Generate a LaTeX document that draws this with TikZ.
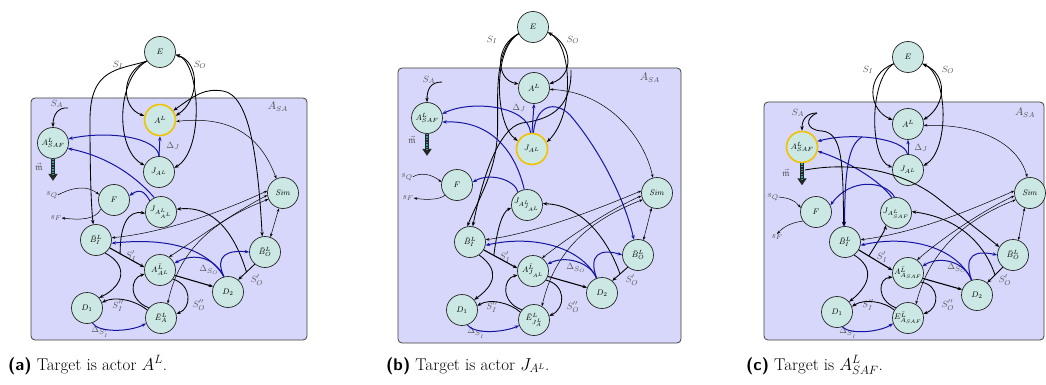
\documentclass[tikz,border=0pt]{standalone}
\usepackage{amsmath,amssymb}
\usetikzlibrary{arrows.meta}
\definecolor{nodefill}{HTML}{CBE8E4}
\definecolor{boxfill}{HTML}{D7D7FB}
\definecolor{gold}{HTML}{F2C200}
\definecolor{dblue}{HTML}{1515A0}
\definecolor{lblc}{HTML}{555555}
\definecolor{mteal}{HTML}{2FA59A}
\tikzset{
 actor/.style={circle, draw=black!85, fill=nodefill, line width=0.7pt, minimum size=31pt, inner sep=0pt, font=\fontsize{8.5}{9}\selectfont},
 tgt/.style={actor, draw=gold, line width=1.6pt},
 asbox/.style={draw=black!75, fill=boxfill, rounded corners=4pt, line width=0.8pt},
 ed/.style={>={Stealth[length=4.5pt,width=3.4pt]}, line width=0.85pt, ->},
 edd/.style={>={Stealth[length=4.5pt,width=3.4pt]}, line width=0.85pt, <->},
 edk/.style={ed, line width=1.1pt},
 th/.style={>={Stealth[length=3.6pt,width=2.6pt]}, line width=0.5pt, <->},
 thinone/.style={>={Stealth[length=3.6pt,width=2.6pt]}, line width=0.5pt, ->},
 blu/.style={ed, draw=dblue, line width=1pt},
 lab/.style={text=lblc, font=\fontsize{9.5}{10}\selectfont, inner sep=0pt},
 boxlab/.style={text=black!70, font=\fontsize{10.5}{11}\selectfont, inner sep=0pt},
 capt/.style={anchor=base west, font=\fontsize{17}{19}\selectfont, inner sep=0pt},
 mvec/.style={line width=4pt, draw=black!85, -{Triangle[length=7pt,width=9pt]}},
 mdot/.style={line width=1.6pt, draw=mteal, dash pattern=on 1.3pt off 1.3pt},
}
\begin{document}
\begin{tikzpicture}[x=1pt,y=-1pt]
\useasboundingbox (0,0) rectangle (1046,385);
% ======================= PANEL (a) =======================
\begin{scope}
\draw[asbox] (31,98) rectangle (307,340);
\node[boxlab] (asaA) at (278,107) {$A_{SA}$};
\node[actor] (E) at (160,52) {$E$};
\node[tgt] (AL) at (160,120) {$A^L$};
\node[actor] (J) at (159,172) {$J_{A^L}$};
\node[actor] (SAF) at (53,143) {$A^L_{SAF}$};
\node[actor] (Sim) at (283,193) {$\mathit{Sim}$};
\node[actor] (F) at (114,200) {$F$};
\node[actor] (JAA) at (161,212) {$J_{A^L_{A^L}}$};
\node[actor] (BI) at (96,240) {$\bar{B}^L_I$};
\node[actor] (AA) at (160,270) {$A^{\bar{L}}_{A^L}$};
\node[actor] (BO) at (265,252) {$\bar{B}^L_O$};
\node[actor] (D2) at (228,292) {$D_2$};
\node[actor] (D1) at (87,308) {$D_1$};
\node[actor] (EA) at (161,318) {$\bar{E}^L_A$};
\node[lab] (sQ) at (52,195) {$s_Q$};
\node[lab] (sF) at (56,218) {$s_F$};
\coordinate (sa) at (68,108);
\node[lab] at (57,104) {$S_A$};
\node[lab] at (39,167) {$\vec{\mathfrak{m}}$};
\node[lab] at (118,65) {$S_I$};
\node[lab] at (200,65) {$S_O$};
\node[lab] at (173,146) {$\Delta_J$};
\node[lab] at (131,256) {$S'_I$};
\node[lab] at (118,306) {$S''_I$};
\node[lab] at (100,332) {$\Delta_{S'_I}$};
\node[lab] at (199,305) {$S''_O$};
\node[lab] at (209,270) {$\Delta_{S_O}$};
\node[lab] at (257,280) {$S'_O$};
% edges
\draw[ed] (E.215) .. controls (120,72) and (121,108) .. (AL.165);
\draw[ed] (E.215) .. controls (116,78) and (115,150) .. (J.155);
\draw[ed] (E.215) .. controls (118,70) and (90,68) .. (90,120) .. controls (90,170) and (91,205) .. (BI.100);
\draw[edd] (E.-10) .. controls (200,62) and (200,100) .. (AL.15);
\draw[edd] (E.-10) .. controls (200,62) and (205,150) .. (J.15);
\draw[edd] (AL.35) .. controls (195,95) and (205,88) .. (223,91) .. controls (250,95) and (258,160) .. (BO.100);
\draw[th] (AL.-5) .. controls (235,115) and (262,140) .. (Sim.115);
\draw[blu] (J.90) -- (AL.-90);
\draw[blu] (J.90) .. controls (158,138) and (110,130) .. (SAF.15);
\draw[blu] (JAA.115) .. controls (130,170) and (100,155) .. (SAF.-20);
\draw[blu] (JAA.135) .. controls (145,192) and (140,188) .. (F.15);
\draw[thinone] (sQ.east) .. controls (75,186) and (88,186) .. (F.160);
\draw[thinone] (F.215) .. controls (95,220) and (80,220) .. (sF.east);
\draw[ed] (sa) .. controls (58,107) and (53,115) .. (SAF.90);
\draw[mvec] (SAF.south) -- ++(0,22);
\draw[mdot] (SAF.south) -- ++(0,16);
\draw[edk] (BI.-30) -- coordinate[pos=0.3] (m2) (AA.170);
\draw[ed] (BI.-55) .. controls (128,265) and (125,285) .. (D1.40);
\draw[ed] (EA.150) .. controls (135,300) and (115,296) .. (D1.20);
\draw[blu] (D1.-70) .. controls (98,333) and (130,332) .. (EA.200);
\draw[ed] (EA.140) .. controls (128,300) and (130,278) .. (AA.195);
\draw[ed] (AA.-35) .. controls (192,285) and (192,308) .. (EA.15);
\draw[edk] (AA.-20) -- (D2.160);
\draw[ed] (BO.230) -- coordinate[pos=0.5] (m1) (D2.50);
\draw[ed] (m1) .. controls (235,235) and (215,205) .. (JAA.10);
\draw[ed] (m2) .. controls (120,225) and (128,210) .. (JAA.185);
\draw[blu] (D2.105) .. controls (215,258) and (195,252) .. (AA.25);
\draw[blu] (D2.105) .. controls (214,255) and (228,250) .. (BO.180);
\draw[blu] (D2.105) .. controls (205,245) and (160,238) .. (BI.-12);
\draw[th] (BI.8) .. controls (170,232) and (230,208) .. (Sim.172);
\draw[th] (AA.55) .. controls (195,240) and (235,212) .. (Sim.188);
\draw[th] (EA.65) .. controls (180,245) and (220,218) .. (Sim.203);
\draw[th] (Sim.-105) -- (BO.70);
\node[capt] (capA) at (8,370) {{\sffamily\bfseries (a)} Target is actor $A^L$.};
\end{scope}
% ======================= PANEL (b) =======================
\begin{scope}
\draw[asbox] (398,68) rectangle (681,343);
\node[boxlab] (asaB) at (650,78) {$A_{SA}$};
\node[actor] (E) at (533,27) {$E$};
\node[actor] (AL) at (534,88) {$A^L$};
\node[tgt] (J) at (532,149) {$J_{A^L}$};
\node[actor] (SAF) at (427,118) {$A^L_{SAF}$};
\node[actor] (Sim) at (657,193) {$\mathit{Sim}$};
\node[actor] (F) at (457,185) {$F$};
\node[actor] (JAA) at (527,205) {$J_{A^L_{J_{A^L}}}$};
\node[actor] (BI) at (470,242) {$\bar{B}^L_I$};
\node[actor] (AA) at (533,271) {$A^{\bar{L}}_{J_{A^L}}$};
\node[actor] (BO) at (638,255) {$\bar{B}^L_O$};
\node[actor] (D2) at (602,293) {$D_2$};
\node[actor] (D1) at (462,310) {$D_1$};
\node[actor] (EA) at (534,320) {$\bar{E}^L_{J^L_A}$};
\node[lab] (sQ) at (407,177) {$s_Q$};
\node[lab] (sF) at (408,198) {$s_F$};
\coordinate (sa) at (442,82);
\coordinate (so) at (571,70);
\node[lab] at (429,80) {$S_A$};
\node[lab] at (412,140) {$\vec{\mathfrak{m}}$};
\node[lab] at (492,40) {$S_I$};
\node[lab] at (573,40) {$S_O$};
\node[lab] at (519,108) {$\Delta_J$};
\node[lab] at (505,257) {$S'_I$};
\node[lab] at (492,307) {$S''_I$};
\node[lab] at (476,333) {$\Delta_{S'_I}$};
\node[lab] at (573,307) {$S''_O$};
\node[lab] at (576,268) {$\Delta_{S_O}$};
\node[lab] at (632,280) {$S'_O$};
\draw[ed] (E.205) .. controls (495,45) and (495,80) .. (AL.165);
\draw[ed] (E.205) .. controls (492,50) and (495,125) .. (J.150);
\draw[ed] (E.205) .. controls (490,50) and (500,110) .. (497,140) .. controls (494,175) and (478,200) .. (BI.100);
\draw[edd] (E.-20) .. controls (572,45) and (575,75) .. (AL.15);
\draw[edd] (E.-20) .. controls (572,45) and (575,115) .. (J.25);
\draw[ed] (so) .. controls (572,112) and (545,120) .. (522,123) .. controls (498,128) and (482,180) .. (BI.80);
\draw[th] (AL.-5) .. controls (610,92) and (645,140) .. (Sim.105);
\draw[blu] (J.90) -- (AL.-90);
\draw[blu] (J.95) .. controls (528,105) and (470,100) .. (SAF.15);
\draw[blu] (J.85) .. controls (536,105) and (555,100) .. (570,115) .. controls (600,150) and (625,200) .. (BO.105);
\draw[blu] (JAA.100) .. controls (515,150) and (490,120) .. (SAF.-15);
\draw[blu] (JAA.125) .. controls (515,180) and (490,172) .. (F.10);
\draw[thinone] (sQ.east) .. controls (420,172) and (432,174) .. (F.170);
\draw[thinone] (F.220) .. controls (440,200) and (425,200) .. (sF.east);
\draw[ed] (sa) .. controls (430,82) and (427,90) .. (SAF.90);
\draw[mvec] (SAF.south) -- ++(0,22);
\draw[mdot] (SAF.south) -- ++(0,16);
\draw[edk] (BI.-30) -- coordinate[pos=0.3] (m2) (AA.170);
\draw[ed] (BI.-55) .. controls (500,270) and (495,285) .. (D1.40);
\draw[ed] (EA.150) .. controls (510,303) and (490,298) .. (D1.15);
\draw[blu] (D1.-70) .. controls (475,335) and (505,332) .. (EA.200);
\draw[ed] (EA.140) .. controls (500,302) and (503,278) .. (AA.195);
\draw[ed] (AA.-35) .. controls (566,285) and (566,308) .. (EA.15);
\draw[edk] (AA.-20) -- (D2.160);
\draw[ed] (BO.230) -- coordinate[pos=0.5] (m1) (D2.50);
\draw[ed] (m1) .. controls (610,245) and (585,205) .. (JAA.5);
\draw[ed] (m2) .. controls (497,230) and (502,212) .. (JAA.190);
\draw[blu] (D2.110) .. controls (590,262) and (565,255) .. (AA.25);
\draw[blu] (D2.110) .. controls (588,255) and (600,248) .. (BO.180);
\draw[blu] (D2.110) .. controls (580,245) and (530,235) .. (BI.-12);
\draw[th] (BI.8) .. controls (540,232) and (600,208) .. (Sim.172);
\draw[th] (AA.55) .. controls (565,240) and (605,212) .. (Sim.190);
\draw[th] (EA.60) .. controls (555,250) and (590,220) .. (Sim.205);
\draw[th] (Sim.-110) -- (BO.70);
\node[capt] (capB) at (386,370) {{\sffamily\bfseries (b)} Target is actor $J_{A^L}$.};
\end{scope}
% ======================= PANEL (c) =======================
\begin{scope}
\draw[asbox] (764,102) rectangle (1044,340);
\node[boxlab] (asaC) at (1025,113) {$A_{SA}$};
\node[actor] (E) at (908,57) {$E$};
\node[actor] (AL) at (908,124) {$A^L$};
\node[actor] (J) at (908,170) {$J_{A^L}$};
\node[tgt] (SAF) at (802,147) {$A^L_{SAF}$};
\node[actor] (Sim) at (1030,193) {$\mathit{Sim}$};
\node[actor] (F) at (816,212) {$F$};
\node[actor] (JAA) at (896,213) {$J_{A^L_{SAF}}$};
\node[actor] (BI) at (845,242) {$\bar{B}^L_I$};
\node[actor] (AA) at (908,273) {$A^{\bar{L}}_{A_{SAF}}$};
\node[actor] (BO) at (1013,255) {$\bar{B}^L_O$};
\node[actor] (D2) at (977,295) {$D_2$};
\node[actor] (D1) at (837,312) {$D_1$};
\node[actor] (EA) at (908,318) {$E^{\bar{L}}_{A_{SAF}}$};
\node[lab] (sQ) at (773,197) {$s_Q$};
\node[lab] (sF) at (777,237) {$s_F$};
\coordinate (sa) at (817,113);
\coordinate (jb) at (862,137);
\coordinate (sb) at (805,170);
\node[lab] at (798,113) {$S_A$};
\node[lab] at (786,173) {$\vec{\mathfrak{m}}$};
\node[lab] at (868,70) {$S_I$};
\node[lab] at (948,70) {$S_O$};
\node[lab] at (921,148) {$\Delta_J$};
\node[lab] at (882,257) {$S'_I$};
\node[lab] at (868,305) {$S''_I$};
\node[lab] at (848,333) {$\Delta_{S'_I}$};
\node[lab] at (948,305) {$S''_O$};
\node[lab] at (957,268) {$\Delta_{S_O}$};
\node[lab] at (1005,280) {$S'_O$};
\draw[ed] (E.205) .. controls (865,75) and (868,110) .. (AL.165);
\draw[ed] (E.205) .. controls (868,80) and (870,160) .. (J.170);
\draw[edd] (E.-25) .. controls (948,75) and (946,105) .. (AL.15);
\draw[edd] (E.-25) .. controls (948,75) and (950,150) .. (J.15);
\draw[th] (AL.-5) .. controls (990,124) and (1020,150) .. (Sim.100);
\draw[blu] (J.90) -- (AL.-90);
\draw[blu] (J.92) .. controls (905,138) and (850,132) .. (SAF.20);
\draw[blu] (jb) .. controls (848,145) and (845,170) .. (BI.92);
\draw[blu] (JAA.105) .. controls (880,180) and (845,160) .. (SAF.-15);
\draw[blu] (JAA.95) .. controls (885,180) and (850,178) .. (F.25);
\draw[ed] (sb) .. controls (860,160) and (910,175) .. (940,200) .. controls (965,220) and (985,235) .. (BO.150);
\draw[ed] (sa) .. controls (808,113) and (802,118) .. (SAF.90);
\draw[ed] (sa) .. controls (805,118) and (805,130) .. (822,131) .. controls (842,133) and (843,160) .. (BI.95);
\draw[mvec] (SAF.south) -- ++(0,22);
\draw[mdot] (SAF.south) -- ++(0,16);
\draw[thinone] (sQ.east) .. controls (788,198) and (795,200) .. (F.165);
\draw[thinone] (F.215) .. controls (795,222) and (785,225) .. (sF.north);
\draw[edk] (BI.-30) -- coordinate[pos=0.3] (m2) (AA.170);
\draw[ed] (BI.-55) .. controls (875,268) and (870,285) .. (D1.40);
\draw[ed] (EA.150) .. controls (885,302) and (865,298) .. (D1.20);
\draw[blu] (D1.-70) .. controls (850,335) and (880,332) .. (EA.200);
\draw[ed] (EA.140) .. controls (876,300) and (878,278) .. (AA.195);
\draw[ed] (AA.-35) .. controls (940,285) and (940,308) .. (EA.15);
\draw[edk] (AA.-20) -- (D2.160);
\draw[ed] (BO.230) -- coordinate[pos=0.5] (m1) (D2.50);
\draw[ed] (m1) .. controls (985,245) and (960,218) .. (JAA.5);
\draw[ed] (m2) .. controls (882,235) and (885,230) .. (JAA.230);
\draw[blu] (D2.110) .. controls (965,262) and (940,255) .. (AA.25);
\draw[blu] (D2.110) .. controls (963,255) and (975,250) .. (BO.180);
\draw[blu] (D2.110) .. controls (955,245) and (905,235) .. (BI.-12);
\draw[th] (BI.8) .. controls (920,232) and (975,208) .. (Sim.172);
\draw[th] (AA.55) .. controls (940,240) and (980,212) .. (Sim.190);
\draw[th] (EA.60) .. controls (930,250) and (965,220) .. (Sim.205);
\draw[th] (Sim.-110) -- (BO.70);
\node[capt] (capC) at (746,370) {{\sffamily\bfseries (c)} Target is $A^L_{SAF}$.};
\end{scope}
\end{tikzpicture}
\end{document}
